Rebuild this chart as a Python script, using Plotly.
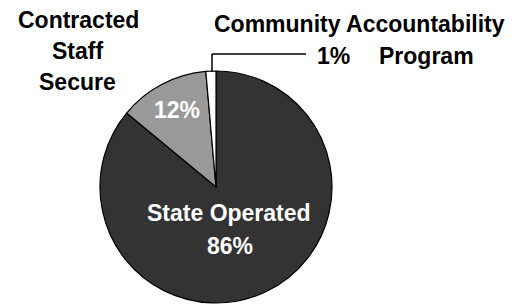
import plotly.graph_objects as go

# The page body has an 8px margin, so the figure is sized to fit the window
OFF = 8
W, H = 520 - OFF, 304 - OFF

# Data
categories = ["State Operated", "Contracted Staff Secure", "Community Accountability Program"]
values = [86.0, 12.6, 1.4]
pct_labels = ["86%", "12%", "1%"]
colors = ["#333333", "#999999", "#ffffff"]

def px(x):
    return (x - OFF) / W

def py(y):
    return 1 - (y - OFF) / H

cx, cy, r = 216, 187, 116

fig = go.Figure()
fig.add_trace(go.Pie(
    labels=categories,
    values=values,
    sort=False,
    direction="clockwise",
    rotation=0,
    marker=dict(colors=colors, line=dict(color="#000000", width=1.2)),
    textinfo="none",
    hoverinfo="label+percent",
    showlegend=False,
    domain=dict(x=[px(cx - r), px(cx + r)], y=[py(cy + r), py(cy - r)]),
))

FONT = "Liberation Sans, Arial, sans-serif"
FS = 23

def ann(text, x, y, color="#000000", xanchor="center"):
    fig.add_annotation(
        text="<b>" + text + "</b>", x=px(x), y=py(y), xref="paper", yref="paper",
        showarrow=False, xanchor=xanchor, yanchor="middle",
        font=dict(family=FONT, size=FS, color=color),
    )

# outside labels
ann("Contracted", 78, 20)
ann("Staff", 77, 51)
ann("Secure", 77, 82)
ann("Community Accountability", 359, 24)
ann(pct_labels[2], 333.5, 56.5)
ann("Program", 426.5, 56.5)
# inside labels
ann(pct_labels[1], 176.5, 109.5, color="#ffffff")
ann(categories[0], 229, 213, color="#ffffff")
ann(pct_labels[0], 229.5, 246, color="#ffffff")

# leader line for the small slice
fig.add_shape(type="line", xref="paper", yref="paper",
              x0=px(212), y0=py(54), x1=px(306), y1=py(54),
              line=dict(color="#000000", width=1.5))
fig.add_shape(type="line", xref="paper", yref="paper",
              x0=px(212), y0=py(54), x1=px(212), y1=py(72),
              line=dict(color="#000000", width=1.5))

fig.update_layout(
    width=W, height=H,
    margin=dict(l=0, r=0, t=0, b=0),
    paper_bgcolor="#ffffff", plot_bgcolor="#ffffff",
)

fig.write_html("out.html")
